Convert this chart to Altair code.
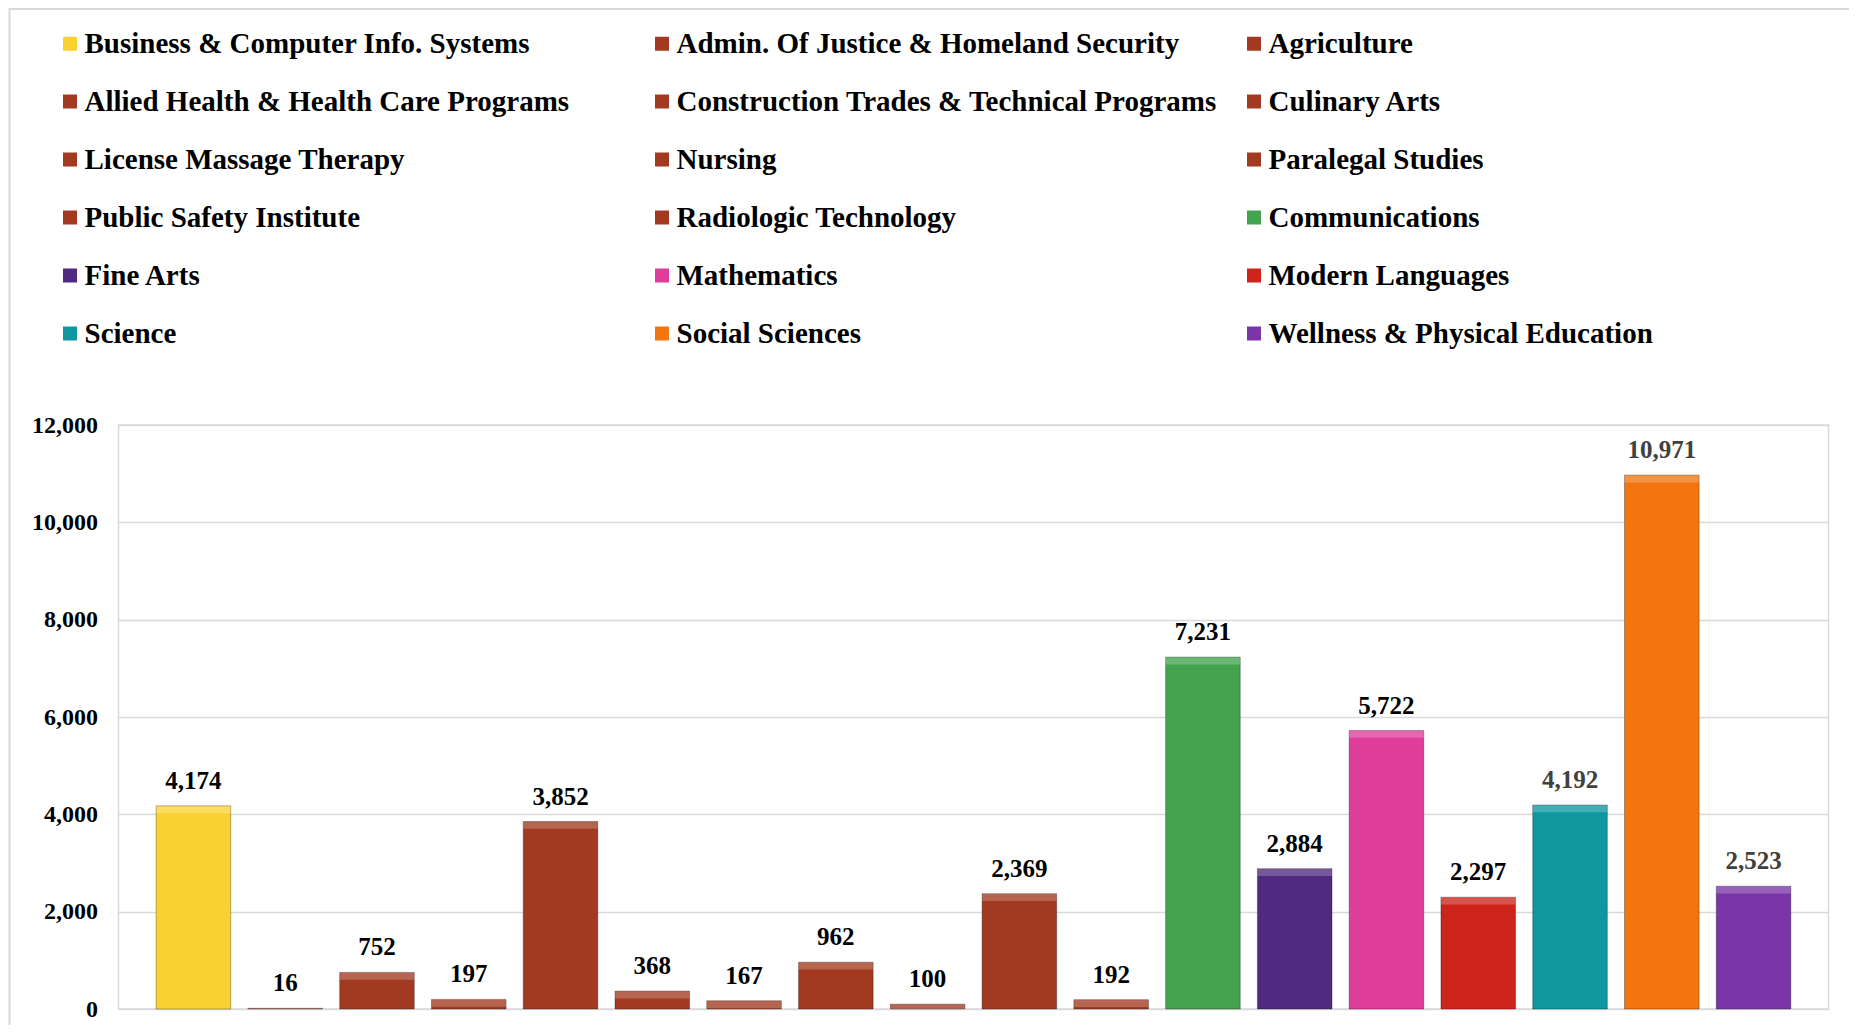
import altair as alt
import pandas as pd

categories = [
    "Business & Computer Info. Systems",
    "Admin. Of Justice & Homeland Security",
    "Agriculture",
    "Allied Health & Health Care Programs",
    "Construction Trades & Technical Programs",
    "Culinary Arts",
    "License Massage Therapy",
    "Nursing",
    "Paralegal Studies",
    "Public Safety Institute",
    "Radiologic Technology",
    "Communications",
    "Fine Arts",
    "Mathematics",
    "Modern Languages",
    "Science",
    "Social Sciences",
    "Wellness & Physical Education",
]
values = [4174, 16, 752, 197, 3852, 368, 167, 962, 100, 2369, 192,
          7231, 2884, 5722, 2297, 4192, 10971, 2523]
BROWN = "#A23A21"
colors = ["#F9D231", BROWN, BROWN, BROWN, BROWN, BROWN, BROWN, BROWN, BROWN,
          BROWN, BROWN, "#43A34E", "#4F2A80", "#DE3D9B", "#CC231A", "#0E979F",
          "#F2750F", "#7A36A8"]
label_colors = ["#000000"] * 15 + ["#404040", "#404040", "#404040"]
y_ticks = [0, 2000, 4000, 6000, 8000, 10000, 12000]

df = pd.DataFrame({"Program": categories, "Count": values, "LabelColor": label_colors})

W, H = 1710, 584
FONT = "Liberation Serif"

x = alt.X("Program:N", sort=categories, axis=None,
          scale=alt.Scale(paddingInner=0.187, paddingOuter=0.41))
y = alt.Y("Count:Q",
          scale=alt.Scale(domain=[0, 12000], nice=False),
          axis=alt.Axis(values=y_ticks, format=",.0f", title=None, labelFont=FONT,
                        labelFontSize=24, labelFontWeight="bold", labelColor="#000000",
                        ticks=False, domain=False, labelPadding=21,
                        gridColor="#d9d9d9", gridWidth=1.5))

bars = alt.Chart(df).mark_bar(stroke="black", strokeOpacity=0.3, strokeWidth=1).encode(
    x=x, y=y,
    color=alt.Color("Program:N", sort=categories,
                    scale=alt.Scale(domain=categories, range=colors),
                    legend=alt.Legend(orient="none", legendX=-63, legendY=-396,
                                      columns=3, title=None, symbolType="square",
                                      symbolSize=196, symbolStrokeWidth=0,
                                      labelFont=FONT, labelFontSize=29,
                                      labelFontWeight="bold", labelColor="#000000",
                                      labelLimit=1000, labelOffset=0, rowPadding=28,
                                      columnPadding=22, gridAlign="all",
                                      direction="horizontal")),
)

bevel = alt.Chart(df).transform_calculate(
    BevelBottom="max(0, datum.Count - 150)"
).mark_bar(color="white", opacity=0.22).encode(
    x=x, y=y, y2=alt.Y2("BevelBottom:Q"),
)

labels = alt.Chart(df).mark_text(baseline="bottom", dy=-12, font=FONT, fontSize=25,
                                  fontWeight="bold").encode(
    x=x, y=y,
    text=alt.Text("Count:Q", format=","),
    color=alt.Color("LabelColor:N", scale=None, legend=None),
)

frame = alt.Chart(pd.DataFrame({"f": [0]})).mark_rect(
    fill="transparent", stroke="#d9d9d9", strokeWidth=2).encode(
    x=alt.value(-109), x2=alt.value(1734), y=alt.value(-416), y2=alt.value(700))

chart = alt.layer(frame, bars, bevel, labels).properties(
    width=W, height=H,
    autosize="none",
    padding={"left": 110.5, "top": 417, "right": 20, "bottom": 16},
).configure_view(stroke="#d9d9d9", strokeWidth=1.5)

chart.save("out.html", embed_options={"renderer": "svg", "actions": False})
